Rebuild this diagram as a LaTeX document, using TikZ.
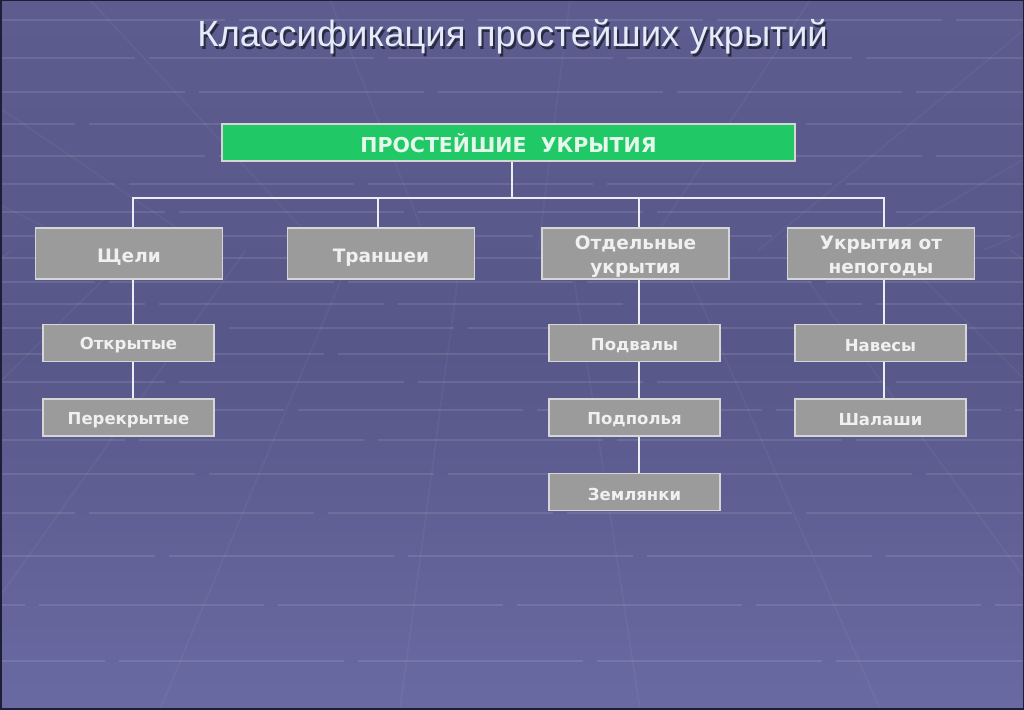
\documentclass[tikz,border=0pt]{standalone}
\usepackage{fontspec}
\setmainfont{Liberation Sans}
\newfontfamily\boxfont{DejaVu Sans}
\newcommand{\lowertext}[2]{\raisebox{-#1}[\height][\depth]{#2}}
\definecolor{bgtop}{HTML}{5C5C8F}
\definecolor{bgmid}{HTML}{575789}
\definecolor{bgbot}{HTML}{6A6AA3}
\definecolor{boxfill}{HTML}{9B9B9B}
\definecolor{boxline}{HTML}{D6D6D6}
\definecolor{boxtext}{HTML}{F0F0F0}
\definecolor{greenfill}{HTML}{21C866}
\definecolor{greentext}{HTML}{E4F8EC}
\definecolor{titlecol}{HTML}{E4ECFA}
\definecolor{conncol}{HTML}{ECECF4}
\begin{document}
\begin{tikzpicture}[x=1pt,y=-1pt,
  gridline/.style={white,opacity=0.10,line width=1.6pt},
  slantline/.style={white,opacity=0.045,line width=1.6pt},
  lvlone/.style={draw=boxline,fill=boxfill,line width=1.3pt,minimum width=187pt,minimum height=51pt,
     text=boxtext,font=\boxfont\bfseries\fontsize{18.5}{24}\selectfont,inner sep=0pt},
  lvltwo/.style={draw=boxline,fill=boxfill,line width=1.3pt,minimum width=171pt,minimum height=37pt,
     text=boxtext,font=\boxfont\bfseries\fontsize{16.5}{18}\selectfont,inner sep=0pt},
  rootbox/.style={draw=boxline,fill=greenfill,line width=1.3pt,minimum width=573pt,minimum height=37pt,
     text=greentext,font=\boxfont\bfseries\fontsize{20.5}{22}\selectfont,inner sep=0pt},
  conn/.style={draw=conncol,line width=2pt}]
% background
\fill[top color=bgtop,bottom color=bgbot,middle color=bgmid] (0,0) rectangle (1024,709);
\useasboundingbox (0,0) rectangle (1024,709);
% faint tiles
\foreach \yy/\ph in {20/0,58/90,92/40,124/150,156/20,184/110,212/60,236/170,258/30,282/130,304/80,328/10,354/140,382/60,410/180,440/100,474/30,513/150,556/70,605/200,661/120}
  \draw[gridline,dash pattern=on 225pt off 14pt,dash phase=\ph pt] (0,\yy) -- (1024,\yy);
\foreach \bx in {-900,-600,-330,-80,160,400,640,880,1120,1360,1620,1900}
  \draw[slantline] (\bx,709) -- ({\bx+(512-\bx)*0.55},250);
\foreach \tx in {-700,-420,-160,90,330,570,810,1060,1300,1560}
  \draw[slantline] (\tx,0) -- ({\tx+(512-\tx)*0.55},250);
\draw[color={rgb,255:red,30;green,30;blue,56},line width=3pt] (0,0) rectangle (1024,709);
% title
\node[anchor=base,font=\fontsize{36.5}{40}\selectfont,text=black,opacity=0.55] (titleshadow) at (514.5,49) {Классификация простейших укрытий};
\node[anchor=base,font=\fontsize{36.5}{40}\selectfont,text=titlecol] (title) at (512.5,47) {Классификация простейших укрытий};
% nodes
\node[rootbox] (root) at (508.5,142.5) {\lowertext{1pt}{ПРОСТЕЙШИЕ\ \ УКРЫТИЯ}};
\node[lvlone] (shch) at (129,253.5) {\lowertext{4pt}{Щели}};
\node[lvlone] (transh) at (381,253.5) {\lowertext{4pt}{Траншеи}};
\node[lvlone] (otd) at (635.5,253.5) {\lowertext{3pt}{\begin{tabular}{@{}c@{}}Отдельные\\укрытия\end{tabular}}};
\node[lvlone] (nepog) at (881,253.5) {\lowertext{3pt}{\begin{tabular}{@{}c@{}}Укрытия от\\непогоды\end{tabular}}};
\node[lvltwo] (otkr) at (128.5,343) {\lowertext{2.5pt}{Открытые}};
\node[lvltwo] (perekr) at (128.5,417.5) {\lowertext{2.5pt}{Перекрытые}};
\node[lvltwo] (podv) at (634.5,343) {\lowertext{2.5pt}{Подвалы}};
\node[lvltwo] (podp) at (634.5,417.5) {\lowertext{2.5pt}{Подполья}};
\node[lvltwo] (zeml) at (634.5,492) {\lowertext{2.5pt}{Землянки}};
\node[lvltwo] (naves) at (880.5,343) {\lowertext{2.5pt}{Навесы}};
\node[lvltwo] (shal) at (880.5,417.5) {\lowertext{2.5pt}{Шалаши}};
% connectors
\coordinate (bus) at ([xshift=3pt]root.south |- 0,198);
\draw[conn] ([xshift=3pt]root.south) -- (bus);
\draw[conn] ([xshift=4pt]shch.north) -- ([xshift=4pt]shch.north |- bus) -- ([xshift=3pt]nepog.north |- bus) -- ([xshift=3pt]nepog.north);
\draw[conn] ([xshift=-3pt]transh.north) -- ([xshift=-3pt]transh.north |- bus);
\draw[conn] ([xshift=3pt]otd.north) -- ([xshift=3pt]otd.north |- bus);
\draw[conn] ([xshift=4pt]shch.south) -- ([xshift=4.5pt]otkr.north);
\draw[conn] ([xshift=4.5pt]otkr.south) -- ([xshift=4.5pt]perekr.north);
\draw[conn] ([xshift=3pt]otd.south) -- ([xshift=4pt]podv.north);
\draw[conn] ([xshift=4pt]podv.south) -- ([xshift=4pt]podp.north);
\draw[conn] ([xshift=4pt]podp.south) -- ([xshift=4pt]zeml.north);
\draw[conn] ([xshift=3pt]nepog.south) -- ([xshift=3.5pt]naves.north);
\draw[conn] ([xshift=3.5pt]naves.south) -- ([xshift=3.5pt]shal.north);
\end{tikzpicture}
\end{document}
